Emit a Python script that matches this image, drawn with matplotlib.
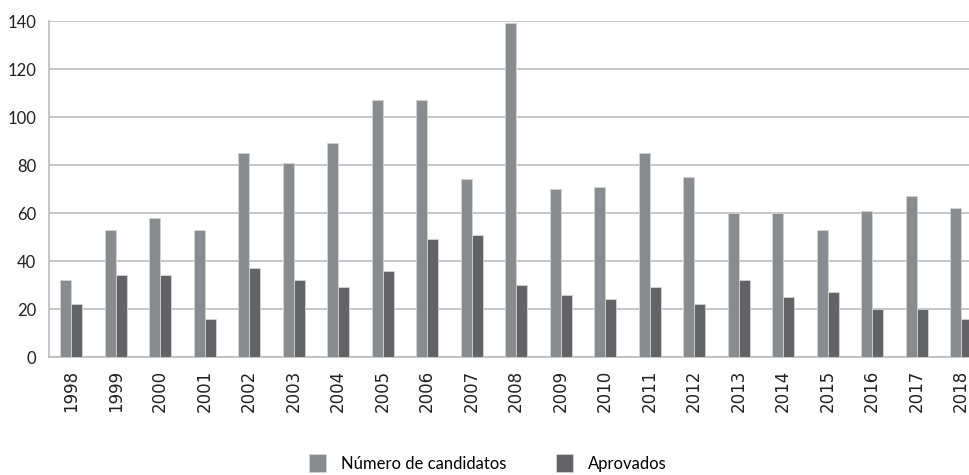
import matplotlib
matplotlib.use("Agg")
from matplotlib import pyplot as plt
import numpy as np

# data
years = ['1998', '1999', '2000', '2001', '2002', '2003', '2004', '2005', '2006', '2007',
         '2008', '2009', '2010', '2011', '2012', '2013', '2014', '2015', '2016', '2017', '2018']
candidatos = [32, 53, 58, 53, 85, 81, 89, 107, 107, 74, 139, 70, 71, 85, 75, 60, 60, 53, 61, 67, 62]
aprovados = [22, 34, 34, 16, 37, 32, 29, 36, 49, 51, 30, 26, 24, 29, 22, 32, 25, 27, 20, 20, 16]

narrow = ['Lato', 'DejaVu Sans']

fig = plt.figure(figsize=(9.7, 4.75), dpi=100)
# axes runs a little past the right edge, like the reference crop
ax = fig.add_axes([49 / 970, 118 / 475, 934.5 / 970, 336 / 475])

x = np.arange(len(years))
w = 0.25
ax.bar(x - w / 2, candidatos, w, color='#8a8b8e', edgecolor='#d4d4d6', linewidth=0.6,
       label='Número de candidatos', zorder=3)
ax.bar(x + w / 2, aprovados, w, color='#636365', edgecolor='#d4d4d6', linewidth=0.6,
       label='Aprovados', zorder=3)

ax.set_xlim(-0.5, len(years) - 0.5)
ax.set_ylim(0, 140)
ax.set_yticks(range(0, 141, 20))
ax.yaxis.grid(True, color='#bcbcbe', linewidth=1.2, zorder=0)
ax.set_axisbelow(True)

for s in ['top', 'right']:
    ax.spines[s].set_visible(False)
ax.spines['left'].set_color('#bcbcbe')
ax.spines['bottom'].set_color('#bcbcbe')
ax.spines['left'].set_linewidth(1.2)
ax.spines['bottom'].set_linewidth(1.2)
ax.tick_params(length=0)

ax.set_xticks(x)
ax.set_xticklabels(years, rotation=90, fontsize=12, color='#231f20',
                   family='DejaVu Sans')
ax.tick_params(axis='x', pad=9)
ax.tick_params(axis='y', pad=9)
for lbl in ax.get_yticklabels():
    lbl.set_family(narrow)
    lbl.set_fontsize(12)
    lbl.set_color('#231f20')

ax.legend(loc='center', bbox_to_anchor=(488 / 970, 12 / 475),
          bbox_transform=fig.transFigure, ncol=2, frameon=False,
          prop={'family': narrow, 'size': 12}, handlelength=1.0, handleheight=1.3,
          columnspacing=3.0, handletextpad=0.9)

plt.savefig("out.png", dpi=100)
